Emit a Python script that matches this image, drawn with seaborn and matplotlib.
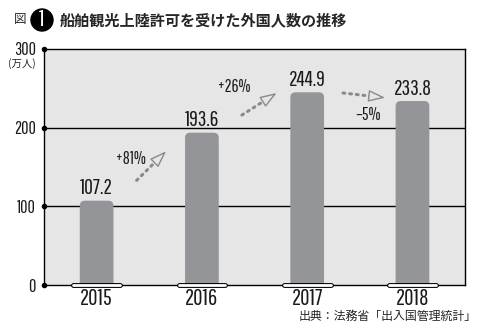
import matplotlib
matplotlib.use("Agg")
import matplotlib.pyplot as plt
import seaborn as sns
import pandas as pd
from matplotlib.patches import FancyBboxPatch, Circle
from matplotlib import font_manager

# --- data -------------------------------------------------------------
years = ["2015", "2016", "2017", "2018"]
visitors = [107.2, 193.6, 244.9, 233.8]          # 万人
growth_labels = ["+81%", "+26%", "–5%"]
y_ticks = [0, 100, 200, 300]

# --- style ------------------------------------------------------------
sns.set_theme(style="white")
plt.rcParams["font.family"] = ["Noto Sans CJK JP", "DejaVu Sans"]

installed = {f.name for f in font_manager.fontManager.ttflist}
NUM_FONT = next((n for n in ["Pathway Gothic One", "Barlow Condensed", "Roboto Condensed"]
                 if n in installed), "DejaVu Sans")

BG = "#e6e6e7"
BAR = "#949598"
ARROW = "#8a8a8c"
INK = "#1a1a1a"

df = pd.DataFrame({"year": years, "visitors": visitors})

fig = plt.figure(figsize=(4.86, 3.35), dpi=100)
ax = fig.add_axes([0.0905, 0.149, 0.8665, 0.705])
ax.set_facecolor(BG)

sns.barplot(data=df, x="year", y="visitors", color=BAR, width=0.32,
            saturation=1, ax=ax, zorder=3)

ax.set_xlim(-0.5, 3.5)
ax.set_ylim(0, 300)

# rounded bar tops: swap each rectangle for a rounded box that starts below the baseline
for p in list(ax.patches):
    x0, w, h = p.get_x(), p.get_width(), p.get_height()
    p.remove()
    rb = FancyBboxPatch((x0, -20), w, h + 20,
                        boxstyle="round,pad=0,rounding_size=0.05",
                        mutation_aspect=130, fc=BAR, ec="none", zorder=3)
    ax.add_patch(rb)

# grid lines and frame
for v in y_ticks[1:3]:
    ax.axhline(v, color="black", lw=1.0, zorder=2)
for s in ax.spines.values():
    s.set_visible(True)
    s.set_color("black")
    s.set_linewidth(1.0)

ax.set_xlabel("")
ax.set_ylabel("")
ax.set_yticks(y_ticks)
ax.set_yticklabels([str(t) for t in y_ticks], fontfamily=NUM_FONT, fontsize=13,
                   color=INK)
ax.tick_params(axis="y", length=0, pad=6)
ax.set_xticks(range(len(years)))
ax.set_xticklabels(years, fontfamily=NUM_FONT, fontsize=16.5, color=INK)
ax.tick_params(axis="x", length=0, pad=2)

# tick dots on the value axis
ax.scatter([-0.5] * len(y_ticks), y_ticks, s=9, color="black", zorder=6, clip_on=False)

# pill markers on the baseline
for i in range(len(years)):
    ax.plot([i - 0.222, i + 0.222], [0, 0], color="black", lw=3.5,
            solid_capstyle="round", zorder=7, clip_on=False)
    ax.plot([i - 0.222, i + 0.222], [0, 0], color="white", lw=2.0,
            solid_capstyle="round", zorder=8, clip_on=False)

# value labels
for i, v in enumerate(visitors):
    ax.text(i, v + 3, f"{v:.1f}", ha="center", va="bottom",
            fontfamily=NUM_FONT, fontsize=15.5, color=INK, zorder=5)

# growth arrows between years
arrows = [((0.38, 133), (0.66, 170), (0.33, 160)),
          ((1.38, 216), (1.71, 244), (1.31, 252)),
          ((2.34, 244), (2.74, 238), (2.58, 216))]
for (start, end, lab), txt in zip(arrows, growth_labels):
    fx = start[0] + 0.75 * (end[0] - start[0])
    fy = start[1] + 0.75 * (end[1] - start[1])
    ax.plot([start[0], fx], [start[1], fy], color=ARROW, lw=2.2,
            linestyle=(0, (0.6, 1.6)), dash_capstyle="round", zorder=4)
    ax.annotate("", xy=end, xytext=(fx, fy),
                arrowprops=dict(arrowstyle="-|>,head_length=0.85,head_width=0.3",
                                fc=BG, ec=ARROW, lw=1.0, shrinkA=0, shrinkB=0),
                zorder=4)
    ax.text(lab[0], lab[1], txt, ha="center", va="center",
            fontfamily=NUM_FONT, fontsize=12.5, color=INK, zorder=5)

# unit label
fig.text(22 / 486, 1 - 64 / 335, "(万人)", ha="center", va="center", fontsize=7.5)

# title
fig.text(14 / 486, 1 - 20 / 335, "図", ha="left", va="center", fontsize=9)
circ = Circle((42 / 100, 3.35 - 20 / 100), 11 / 100,
              transform=fig.dpi_scale_trans, color="black", zorder=10)
fig.patches.append(circ)
fig.text(42 / 486, 1 - 20 / 335, "1", ha="center", va="center", fontsize=17,
         color="white", fontfamily=NUM_FONT, zorder=11)
fig.text(60 / 486, 1 - 20 / 335, "船舶観光上陸許可を受けた外国人数の推移",
         ha="left", va="center", fontsize=10.9, fontweight="bold")

# source
fig.text(477 / 486, 1 - 316 / 335, "出典：法務省「出入国管理統計」",
         ha="right", va="center", fontsize=8.6)

fig.savefig("out.png", dpi=100, facecolor="white")
